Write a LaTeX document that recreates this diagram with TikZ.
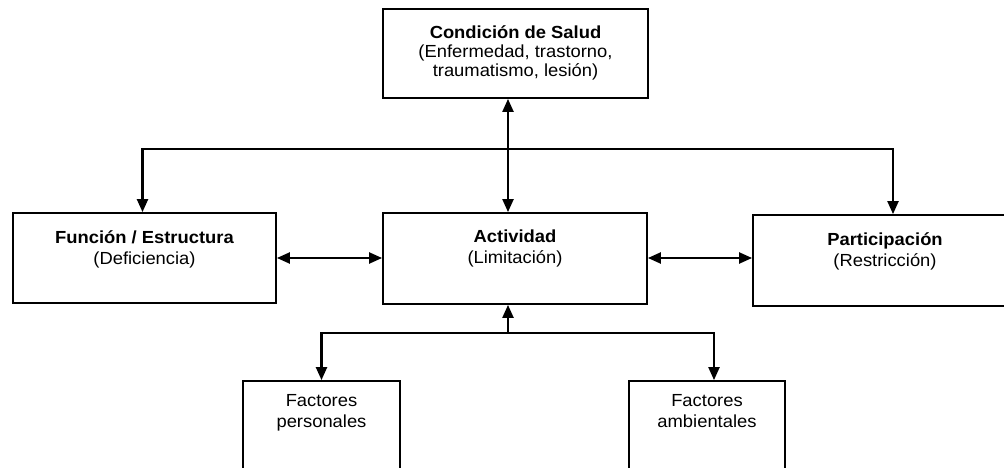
\documentclass[tikz,border=0pt]{standalone}
\usepackage{fontspec}
\setmainfont{Liberation Sans}[FakeStretch=1.05]
\usetikzlibrary{positioning,arrows.meta}

\newcommand{\primera}{\rule{0pt}{12pt}}

\tikzset{
  caja/.style={draw, line width=1.8pt, inner sep=0pt},
  rotulo/.style={align=center, inner sep=0pt, font=\fontsize{17.5}{21}\selectfont},
  flecha/.style={line width=2.2pt}
}

\begin{document}
\begin{tikzpicture}[x=1pt, y=-1pt, >={Triangle[length=13pt,width=11pt]}]
  \useasboundingbox (0,0) rectangle (1004,468);
  \clip (0,0) rectangle (1004,468);
  % cajas
  \node[caja, minimum width=265pt, minimum height=89pt] (salud) at (515.5,53.5) {};
  \node[caja, minimum width=263pt, minimum height=90pt] (funcion) at (144.5,258) {};
  \node[caja, minimum width=264pt, minimum height=91pt] (activ) at (515,258.5) {};
  \node[caja, minimum width=264pt, minimum height=91pt] (partic) at (885,260.5) {};
  \node[caja, minimum width=157pt, minimum height=110pt] (fper) at (321.5,436) {};
  \node[caja, minimum width=156pt, minimum height=110pt] (famb) at (707,436) {};
  % textos
  \node[rotulo, font=\fontsize{17.5}{19}\selectfont, below=17pt of salud.north] (saludt)
    {\primera\textbf{Condición de Salud}\\(Enfermedad, trastorno,\\traumatismo, lesión)};
  \node[rotulo, below=18pt of funcion.north] (funciont)
    {\primera\textbf{Función / Estructura}\\(Deficiencia)};
  \node[rotulo, below=18pt of activ.north] (activt)
    {\primera\textbf{Actividad}\\(Limitación)};
  \node[rotulo, below=18pt of partic.north] (partict)
    {\primera\textbf{Participación}\\(Restricción)};
  \node[rotulo, below=14pt of fper.north] (fpert)
    {\primera Factores\\personales};
  \node[rotulo, below=14pt of famb.north] (fambt)
    {\primera Factores\\ambientales};
  % conectores
  \coordinate (arriba) at (508,149);
  \coordinate (abajo) at (508,333);
  \draw[flecha, <->] (arriba |- salud.south) -- (arriba |- activ.north);
  \draw[flecha, ->] (arriba) -| ([xshift=-2pt]funcion.north);
  \draw[flecha, ->] (arriba) -| ([xshift=8pt]partic.north);
  \draw[flecha, <->] (funcion.east) -- (activ.west |- funcion.east);
  \draw[flecha, <->] (activ.east |- funcion.east) -- (partic.west |- funcion.east);
  \draw[flecha, ->] (abajo) -- (abajo |- activ.south);
  \draw[flecha, ->] (abajo) -| (fper.north);
  \draw[flecha, ->] (abajo) -| ([xshift=7pt]famb.north);
\end{tikzpicture}
\end{document}
